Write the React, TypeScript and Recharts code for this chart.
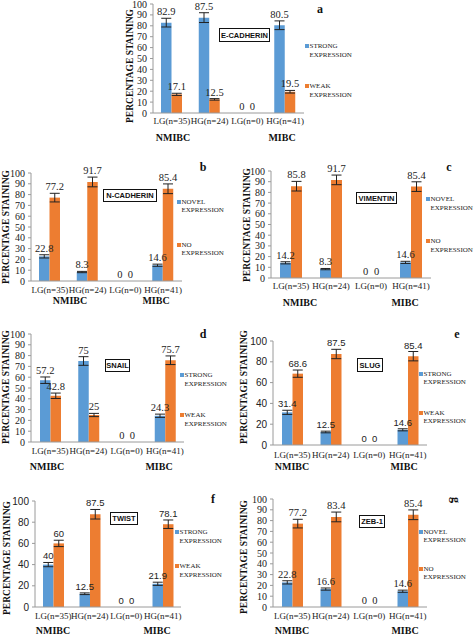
import React from "react";
import { BarChart, Bar, XAxis, YAxis, ErrorBar, LabelList } from "recharts";

const BLUE = "#5b9bd5";
const ORANGE = "#ed7d31";
const SERIF = '"Liberation Serif", "Times New Roman", serif';
const SANS = '"Liberation Sans", Arial, sans-serif';

// shared x categories
const categories = ["LG(n=35)", "HG(n=24)", "LG(n=0)", "HG(n=41)"];
const ticks10 = [0, 10, 20, 30, 40, 50, 60, 70, 80, 90, 100];
const ticks20 = [0, 20, 40, 60, 80, 100];

// a - E-CADHERIN
const eCadStrong = [82.9, 87.5, 0, 80.5];
const eCadStrongErr = [4, 4.5, 0, 4];
const eCadWeak = [17.1, 12.5, 0, 19.5];
const eCadWeakErr = [1, 0.7, 0, 1.2];

// b - N-CADHERIN
const nCadNovel = [22.8, 8.3, 0, 14.6];
const nCadNovelErr = [1.5, 0.6, 0, 1];
const nCadNo = [77.2, 91.7, 0, 85.4];
const nCadNoErr = [4, 4.5, 0, 4.5];

// c - VIMENTIN
const vimNovel = [14.2, 8.3, 0, 14.6];
const vimNovelErr = [1, 0.6, 0, 1];
const vimNo = [85.8, 91.7, 0, 85.4];
const vimNoErr = [4.5, 4.5, 0, 4.5];

// d - SNAIL
const snailStrong = [57.2, 75, 0, 24.3];
const snailStrongErr = [3, 4, 0, 1.5];
const snailWeak = [42.8, 25, 0, 75.7];
const snailWeakErr = [2.5, 1.5, 0, 4];

// e - SLUG
const slugStrong = [31.4, 12.5, 0, 14.6];
const slugStrongErr = [2, 0.8, 0, 1];
const slugWeak = [68.6, 87.5, 0, 85.4];
const slugWeakErr = [3.5, 4.5, 0, 4.5];

// f - TWIST
const twistStrong = [40, 12.5, 0, 21.9];
const twistStrongErr = [2, 0.8, 0, 1.5];
const twistWeak = [60, 87.5, 0, 78.1];
const twistWeakErr = [3, 4.5, 0, 4];

// g - ZEB-1
const zebNovel = [22.8, 16.6, 0, 14.6];
const zebNovelErr = [1.5, 1, 0, 1];
const zebNo = [77.2, 83.4, 0, 85.4];
const zebNoErr = [4, 4.5, 0, 4.5];

const strongWeak = ["STRONG", "WEAK"];
const novelNo = ["NOVEL", "NO"];

type Layout = {
  x0: number; x1: number; yTop: number; yBot: number;
  yLabel: [number, number];
  catGap: number;
  groupY: number; nmibcX: number; mibcX: number;
  box: [number, number, number, number];
  letter: [number, number]; rotateLetter?: boolean;
  legendX: number; legendY: [number, number]; legendLine: number;
  barSize: number;
};

type PanelDef = {
  letter: string;
  title: string;
  names: string[];
  s1: number[]; e1: number[];
  s2: number[]; e2: number[];
  ticks: number[];
  sansTicks: boolean;
  sansValues: boolean;
  lay: Layout;
};

const panels: PanelDef[] = [
  {
    letter: "a", title: "E-CADHERIN", names: strongWeak,
    s1: eCadStrong, e1: eCadStrongErr, s2: eCadWeak, e2: eCadWeakErr,
    ticks: ticks10, sansTicks: false, sansValues: false,
    lay: {
      x0: 153, x1: 304, yTop: 4, yBot: 113, yLabel: [130, 66], catGap: 5,
      groupY: 137, nmibcX: 173, mibcX: 282, box: [219, 28, 51, 14],
      letter: [320, 9], legendX: 305, legendY: [46, 86], legendLine: 9, barSize: 10.5,
    },
  },
  {
    letter: "b", title: "N-CADHERIN", names: novelNo,
    s1: nCadNovel, e1: nCadNovelErr, s2: nCadNo, e2: nCadNoErr,
    ticks: ticks10, sansTicks: false, sansValues: false,
    lay: {
      x0: 31, x1: 182, yTop: 173, yBot: 281, yLabel: [6, 227], catGap: 6,
      groupY: 300, nmibcX: 70, mibcX: 156, box: [103, 189, 54, 13],
      letter: [203, 167], legendX: 177, legendY: [202, 245], legendLine: 8, barSize: 10.5,
    },
  },
  {
    letter: "c", title: "VIMENTIN", names: novelNo,
    s1: vimNovel, e1: vimNovelErr, s2: vimNo, e2: vimNoErr,
    ticks: ticks10, sansTicks: false, sansValues: false,
    lay: {
      x0: 271, x1: 431, yTop: 171, yBot: 278, yLabel: [247, 225], catGap: 5,
      groupY: 302, nmibcX: 300, mibcX: 405, box: [356, 192, 41, 12],
      letter: [449, 167], legendX: 426, legendY: [199, 241], legendLine: 9, barSize: 11,
    },
  },
  {
    letter: "d", title: "SNAIL", names: strongWeak,
    s1: snailStrong, e1: snailStrongErr, s2: snailWeak, e2: snailWeakErr,
    ticks: ticks10, sansTicks: false, sansValues: false,
    lay: {
      x0: 31, x1: 184, yTop: 334, yBot: 442, yLabel: [6, 387], catGap: 6,
      groupY: 466, nmibcX: 47, mibcX: 159, box: [105, 359, 25, 13],
      letter: [203, 334], legendX: 180, legendY: [375, 415], legendLine: 9, barSize: 10.5,
    },
  },
  {
    letter: "e", title: "SLUG", names: strongWeak,
    s1: slugStrong, e1: slugStrongErr, s2: slugWeak, e2: slugWeakErr,
    ticks: ticks20, sansTicks: true, sansValues: true,
    lay: {
      x0: 273, x1: 427, yTop: 341, yBot: 445, yLabel: [244, 387], catGap: 7,
      groupY: 466, nmibcX: 292, mibcX: 404, box: [357, 358, 26, 14],
      letter: [457, 334], legendX: 419, legendY: [374, 413], legendLine: 8.5, barSize: 10.5,
    },
  },
  {
    letter: "f", title: "TWIST", names: strongWeak,
    s1: twistStrong, e1: twistStrongErr, s2: twistWeak, e2: twistWeakErr,
    ticks: ticks20, sansTicks: true, sansValues: true,
    lay: {
      x0: 35, x1: 181, yTop: 501, yBot: 607, yLabel: [7, 558], catGap: 6,
      groupY: 630, nmibcX: 53, mibcX: 157, box: [110, 512, 28, 13],
      letter: [213, 499], legendX: 175, legendY: [532, 566], legendLine: 9, barSize: 10.5,
    },
  },
  {
    letter: "g", title: "ZEB-1", names: novelNo,
    s1: zebNovel, e1: zebNovelErr, s2: zebNo, e2: zebNoErr,
    ticks: ticks10, sansTicks: false, sansValues: false,
    lay: {
      x0: 273, x1: 427, yTop: 499, yBot: 607, yLabel: [244, 557], catGap: 6,
      groupY: 630, nmibcX: 292, mibcX: 405, box: [359, 515, 26, 13],
      letter: [455, 500], rotateLetter: true, legendX: 419, legendY: [532, 569], legendLine: 8.5, barSize: 10.5,
    },
  },
];

const Y_AXIS_W = 34;
const TOP_M = 16;
const X_AXIS_H = 22;

function valueLabel(errs: number[], ppu: number, font: string, size: number) {
  return (p: any) => {
    const i = typeof p.index === "number" ? p.index : 0;
    const x = Number(p.x) + Number(p.width) / 2;
    const y = Number(p.y) - (errs[i] || 0) * ppu - 3;
    if (!isFinite(x) || !isFinite(y)) return null;
    return (
      <text x={x} y={y} textAnchor="middle" fontFamily={font} fontSize={size} fill="#222">
        {Math.round(Number(p.value) * 10) / 10}
      </text>
    );
  };
}

function Panel({ d }: { d: PanelDef }) {
  const L = d.lay;
  const plotW = L.x1 - L.x0;
  const plotH = L.yBot - L.yTop;
  const ppu = plotH / 100;
  const rows = categories.map((c, i) => ({
    cat: c,
    a: d.s1[i], ae: d.e1[i],
    b: d.s2[i], be: d.e2[i],
  }));
  const valFont = d.sansValues ? SANS : SERIF;
  const valSize = d.sansValues ? 9.5 : 10.5;
  const legendText = (name: string) => (
    <>
      {name}
      <br />
      EXPRESSION
    </>
  );
  return (
    <>
      <div style={{ position: "absolute", left: L.x0 - Y_AXIS_W, top: L.yTop - TOP_M }}>
        <BarChart
          width={Y_AXIS_W + plotW + 2}
          height={TOP_M + plotH + X_AXIS_H}
          data={rows}
          margin={{ top: TOP_M, right: 2, left: 0, bottom: 0 }}
          barGap={0}
          barSize={L.barSize}
          style={{ overflow: "visible" }}
        >
          <XAxis
            dataKey="cat"
            height={X_AXIS_H}
            interval={0}
            tickSize={0}
            tickMargin={L.catGap}
            axisLine={{ stroke: "#9a9a9a" }}
            tick={{ fontFamily: SERIF, fontSize: 9, fill: "#222" }}
          />
          <YAxis
            width={Y_AXIS_W}
            domain={[0, 100]}
            ticks={d.ticks}
            interval={0}
            tickSize={3}
            tickMargin={3}
            axisLine={{ stroke: "#9a9a9a" }}
            tickLine={{ stroke: "#9a9a9a" }}
            tick={{ fontFamily: d.sansTicks ? SANS : SERIF, fontSize: 10, fill: "#222" }}
          />
          <Bar dataKey="a" fill={BLUE} minPointSize={0.01} isAnimationActive={false}>
            <ErrorBar dataKey="ae" width={5} stroke="#222" strokeWidth={1} />
            <LabelList dataKey="a" content={valueLabel(d.e1, ppu, valFont, valSize)} />
          </Bar>
          <Bar dataKey="b" fill={ORANGE} minPointSize={0.01} isAnimationActive={false}>
            <ErrorBar dataKey="be" width={5} stroke="#222" strokeWidth={1} />
            <LabelList dataKey="b" content={valueLabel(d.e2, ppu, valFont, valSize)} />
          </Bar>
        </BarChart>
      </div>

      {/* y axis title */}
      <div
        style={{
          position: "absolute", left: L.yLabel[0], top: L.yLabel[1],
          transform: "translate(-50%, -50%) rotate(-90deg)",
          whiteSpace: "nowrap", fontFamily: SERIF, fontWeight: "bold", fontSize: 9.5, color: "#111",
        }}
      >
        PERCENTAGE STAINING
      </div>

      {/* group labels */}
      {[L.nmibcX, L.mibcX].map((gx, gi) => (
        <div
          key={gi}
          style={{
            position: "absolute", left: gx, top: L.groupY, transform: "translate(-50%, -50%)",
            fontFamily: SERIF, fontWeight: "bold", fontSize: 10, whiteSpace: "nowrap", color: "#111",
          }}
        >
          {["NMIBC", "MIBC"][gi]}
        </div>
      ))}

      {/* marker box */}
      <div
        style={{
          position: "absolute", left: L.box[0], top: L.box[1], width: L.box[2], height: L.box[3],
          boxSizing: "border-box", border: "1.5px solid #111", background: "#fff",
          display: "flex", alignItems: "center", justifyContent: "center",
          fontFamily: SANS, fontWeight: "bold", fontSize: 7.5, whiteSpace: "nowrap", color: "#111",
        }}
      >
        {d.title}
      </div>

      {/* panel letter */}
      <div
        style={{
          position: "absolute", left: L.letter[0], top: L.letter[1],
          transform: `translate(-50%, -50%)${L.rotateLetter ? " rotate(90deg)" : ""}`,
          fontFamily: SERIF, fontWeight: "bold", fontSize: 12, color: "#111",
        }}
      >
        {d.letter}
      </div>

      {/* legend */}
      {[BLUE, ORANGE].map((col, li) => (
        <React.Fragment key={li}>
          <div
            style={{
              position: "absolute", left: L.legendX, top: L.legendY[li] - 2,
              width: 4, height: 4, background: col,
            }}
          />
          <div
            style={{
              position: "absolute", left: L.legendX + 4.5, top: L.legendY[li] - L.legendLine / 2,
              fontFamily: SERIF, fontSize: 7, lineHeight: `${L.legendLine}px`, whiteSpace: "nowrap", color: "#222",
            }}
          >
            {legendText(d.names[li])}
          </div>
        </React.Fragment>
      ))}
    </>
  );
}

export default function App() {
  return (
    <div
      style={{
        position: "absolute", left: 0, top: 0, width: 474, height: 635,
        background: "#fff", overflow: "hidden",
      }}
    >
      {panels.map((p) => (
        <Panel key={p.letter} d={p} />
      ))}
    </div>
  );
}
